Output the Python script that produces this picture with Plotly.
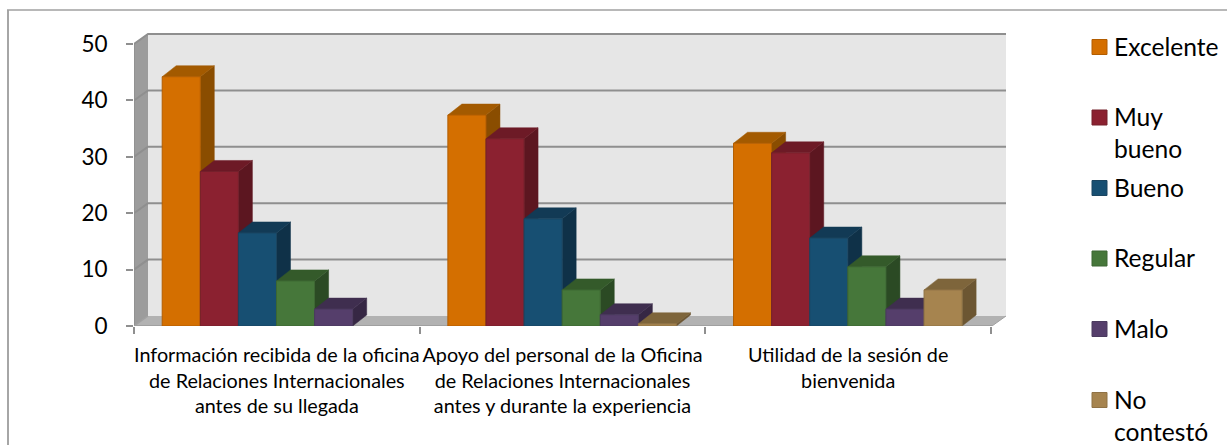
import plotly.graph_objects as go

categories = ["Información recibida de la oficina<br>de Relaciones Internacionales<br>antes de su llegada",
              "Apoyo del personal de la Oficina<br>de Relaciones Internacionales<br>antes y durante la experiencia",
              "Utilidad de la sesión de<br>bienvenida"]
series_names = ["Excelente", "Muy bueno", "Bueno", "Regular", "Malo", "No contestó"]
legend_labels = ["Excelente", "Muy<br>bueno", "Bueno", "Regular", "Malo", "No<br>contestó"]
excelente = [44.2, 37.4, 32.4]
muy_bueno = [27.4, 33.2, 30.7]
bueno = [16.5, 19.0, 15.6]
regular = [8.0, 6.4, 10.5]
malo = [3.0, 2.0, 3.0]
no_contesto = [None, 0.4, 6.4]
all_series = [excelente, muy_bueno, bueno, regular, malo, no_contesto]
y_ticks = [0, 10, 20, 30, 40, 50]

front = ["#D46F00", "#8B2130", "#174F72", "#46773A", "#553E6B", "#A6844F"]
edge = ["#B25D00", "#74202B", "#1B4560", "#3C6632", "#4A3A5E", "#8F7245"]
side = ["#8A4D00", "#5C1620", "#0F3148", "#2B4A24", "#362744", "#6C5632"]
top = ["#A35A00", "#6D1A26", "#123A55", "#345A2A", "#3F2E4F", "#7E653B"]

# page geometry
W, H = 1227, 445
L, R, T, B = 134, 1006, 33, 326
px_x = 285.67
px_y = 5.64
ddx, ddy = 14 / px_x, 11 / px_y
wall_dy = 10 / px_y
bar_w = 38.1 / px_x
pad = 28.2 / px_x
xmax, ymax = (R - L) / px_x, (B - T) / px_y

fig = go.Figure()


def poly(xs, ys, fill, line=None, lw=0):
    fig.add_trace(go.Scatter(x=xs, y=ys, mode="lines", fill="toself", fillcolor=fill,
                             line=dict(color=line or fill, width=lw), hoverinfo="skip",
                             showlegend=False, cliponaxis=False))


def seg(xs, ys, color, lw):
    fig.add_trace(go.Scatter(x=xs, y=ys, mode="lines", line=dict(color=color, width=lw),
                             hoverinfo="skip", showlegend=False, cliponaxis=False))


# walls
poly([ddx, xmax, xmax, ddx, ddx], [wall_dy, wall_dy, 50 + wall_dy, 50 + wall_dy, wall_dy], "#E6E6E6")
poly([0, ddx, ddx, 0, 0], [0, wall_dy, 50 + wall_dy, 50, 0], "#9C9C9C")
poly([0, ddx, xmax, xmax - ddx, 0], [0, wall_dy, wall_dy, 0, 0], "#B2B2B2")
for v in y_ticks[1:]:
    seg([0, ddx, xmax], [v, v + wall_dy, v + wall_dy], "#8F8F8F", 2)
seg([0, ddx], [0, wall_dy], "#A0A0A0", 1.5)
seg([0, 0], [0, 50], "#8F8F8F", 1.5)
seg([0, xmax - ddx], [0, 0], "#A0A0A0", 2)
seg([xmax - ddx, xmax], [0, wall_dy], "#A0A0A0", 1)

# bars, left to right so the next bar covers the side of the previous one
for c in range(3):
    for s, vals in enumerate(all_series):
        v = vals[c]
        if v is None:
            continue
        x0 = c + pad + s * bar_w
        x1 = x0 + bar_w
        poly([x1, x1 + ddx, x1 + ddx, x1, x1], [0, ddy, v + ddy, v, 0], side[s], side[s], 0.5)
        poly([x0, x1, x1 + ddx, x0 + ddx, x0], [v, v, v + ddy, v + ddy, v], top[s], top[s], 0.5)
        poly([x0, x1, x1, x0, x0], [0, 0, v, v, 0], front[s], edge[s], 1)

shapes = []
ax = (R - L)
ay = (B - T)
px = lambda p: (p - L) / ax
py = lambda p: (B - p) / ay
# outer frame
shapes.append(dict(type="line", xref="paper", yref="paper", x0=px(8), x1=px(8), y0=py(10), y1=py(445),
                   line=dict(color="#A6A6A6", width=2)))
shapes.append(dict(type="line", xref="paper", yref="paper", x0=px(7), x1=px(1227), y0=py(10), y1=py(10),
                   line=dict(color="#A0A0A0", width=1.5)))

annotations = []
leg_y = [47, 117.5, 188, 258.5, 329, 400]
for name, y, f, e in zip(legend_labels, leg_y, front, edge):
    shapes.append(dict(type="rect", xref="paper", yref="paper", x0=px(1092), x1=px(1107), y0=py(y + 7.5), y1=py(y - 7.5),
                       fillcolor=f, line=dict(color=e, width=1)))
    annotations.append(dict(xref="paper", yref="paper", x=px(1113), y=py(y - 16.5), xanchor="left", yanchor="top",
                            align="left", text=name, showarrow=False, font=dict(size=24.6), borderpad=0))

fig.update_layout(
    width=W, height=H, margin=dict(l=L, r=W - R, t=T, b=H - B, autoexpand=False),
    paper_bgcolor="white", plot_bgcolor="white", showlegend=False,
    font=dict(family="Lato, Carlito, sans-serif", color="#000000"),
    shapes=shapes, annotations=annotations,
    xaxis=dict(range=[0, xmax], showgrid=False, zeroline=False, showline=False,
               tickvals=[0.5, 1.5, 2.5], ticktext=categories, ticks="", tickfont=dict(size=19.8), tickangle=0,
               ticklabelstandoff=15,
               minor=dict(tickvals=[0, 1, 2, 3], ticks="outside", ticklen=7, tickcolor="#8F8F8F", tickwidth=1.5)),
    yaxis=dict(range=[0, ymax], showgrid=False, zeroline=False, showline=False,
               tickvals=y_ticks, ticks="outside", ticklen=7, tickcolor="#8F8F8F", tickwidth=1.5,
               tickfont=dict(size=22.5), ticklabelstandoff=14),
)

fig.write_html("out.html", config=dict(displayModeBar=False),
               post_script="document.body.style.margin='0';document.body.style.overflow='hidden';")
